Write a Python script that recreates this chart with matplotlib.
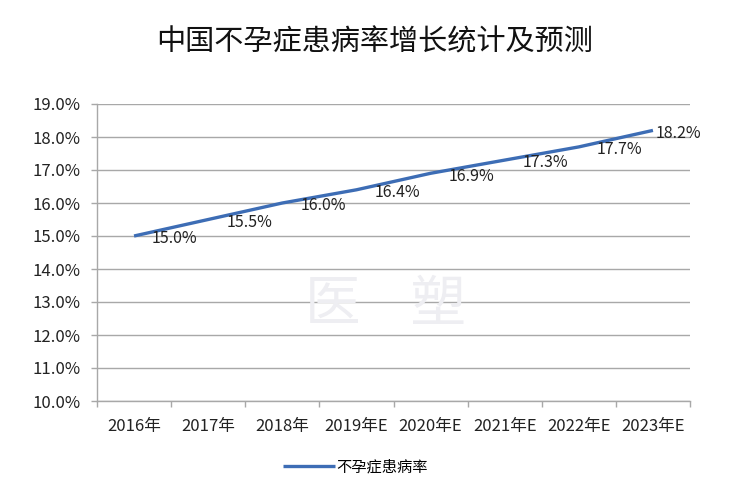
import matplotlib
matplotlib.use("Agg")
import matplotlib.pyplot as plt
import numpy as np

plt.rcParams['font.family'] = ['Noto Sans CJK SC', 'DejaVu Sans']

categories = ["2016年", "2017年", "2018年", "2019年E", "2020年E", "2021年E", "2022年E", "2023年E"]
values = [15.0, 15.5, 16.0, 16.4, 16.9, 17.3, 17.7, 18.2]
y_ticks = [10.0, 11.0, 12.0, 13.0, 14.0, 15.0, 16.0, 17.0, 18.0, 19.0]
series_name = "不孕症患病率"
title = "中国不孕症患病率增长统计及预测"

fig = plt.figure(figsize=(7.41, 5.0), dpi=100)
ax = fig.add_axes([0.1309, 0.198, 0.8003, 0.594])

x = np.arange(len(categories))
line_color = "#3D6DB5"
grid_color = "#A8A8A8"

ax.plot(x, values, color=line_color, lw=2.4, solid_capstyle="butt", label=series_name, zorder=3)

for i, v in enumerate(values):
    dx = 13 if i < len(values) - 1 else 2
    ax.annotate(f"{v:.1f}%", (x[i], v), xytext=(dx, -2), textcoords="offset points",
                ha="left", va="center", fontsize=11.5, color="#222222", zorder=4)

ax.set_xlim(-0.5, len(categories) - 0.5)
ax.set_ylim(y_ticks[0], y_ticks[-1])
ax.set_yticks(y_ticks)
ax.set_yticklabels([f"{t:.1f}%" for t in y_ticks], fontsize=12, color="#222222")
ax.set_xticks(x)
ax.set_xticklabels(categories, fontsize=12, color="#222222")
ax.set_xticks(np.arange(-0.5, len(categories), 1.0), minor=True)
ax.tick_params(axis="x", which="major", length=0, pad=12)
ax.tick_params(axis="x", which="minor", length=4, color=grid_color, width=1)
ax.tick_params(axis="y", length=4, color=grid_color, width=1, pad=8)

ax.grid(axis="y", color=grid_color, lw=1)
ax.set_axisbelow(True)
for s in ["top", "right"]:
    ax.spines[s].set_visible(False)
for s in ["left", "bottom"]:
    ax.spines[s].set_color(grid_color)
    ax.spines[s].set_linewidth(1)

# faint watermark
fig.text(0.52, 0.39, "医    塑", fontsize=40, color="#EEEEF2", ha="center", va="center", zorder=0)

fig.text(0.505, 0.915, title, fontsize=21, ha="center", va="center", color="#111111")

leg = fig.legend(loc="center", bbox_to_anchor=(0.48, 0.066), frameon=False, fontsize=11,
                 handlelength=3.4, handletextpad=0.1)

fig.savefig("out.png", dpi=100, facecolor="white")
